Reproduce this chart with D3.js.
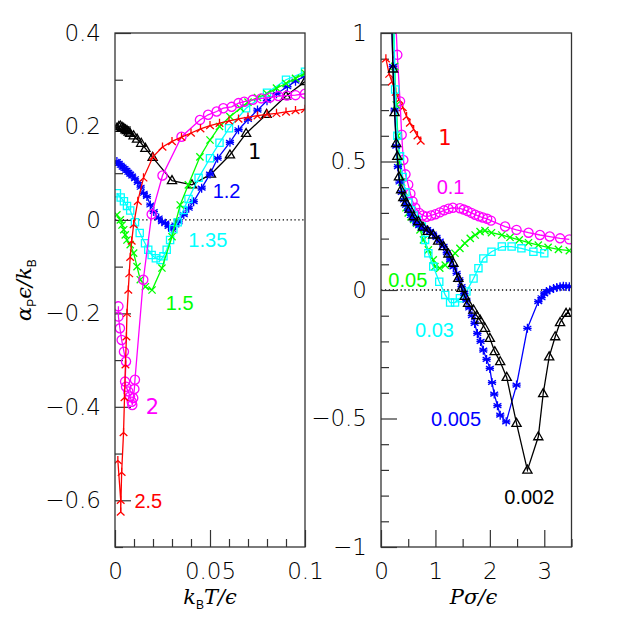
<!DOCTYPE html>
<html>
<head>
<meta charset="utf-8">
<script src="https://cdn.jsdelivr.net/npm/d3@7"></script>
<style>
  body { margin: 0; background: #fff; }
  svg { display: block; }
</style>
</head>
<body>
<div id="chart"></div>
<script>
// alpha_P vs T (left, labelled by P) and vs P (right, labelled by T)

var width = 623
var height = 623

// ---- left panel data: [kT/eps, alpha_P eps/k_B], one list per pressure
var tP1 = [[0.001,0.196],[0.002,0.200],[0.0028,0.201],[0.0037,0.198],[0.0046,0.196],[0.0055,0.193],[0.0063,0.191],[0.0072,0.188],[0.008,0.185],[0.0098,0.18],[0.0116,0.173],[0.0138,0.164],[0.016,0.153],[0.0198,0.134],[0.030,0.084],[0.0405,0.075],[0.0505,0.098],[0.0605,0.139],[0.069,0.185],[0.0798,0.226],[0.09,0.265],[0.1,0.296]]
var tP12 = [[0.001,0.125],[0.002,0.121],[0.003,0.117],[0.004,0.113],[0.005,0.11],[0.006,0.106],[0.007,0.102],[0.008,0.098],[0.009,0.094],[0.0105,0.088],[0.012,0.08],[0.0135,0.07],[0.0151,0.057],[0.0168,0.05],[0.0186,0.032],[0.0204,0.018],[0.023,0.004],[0.0247,-0.004],[0.0265,-0.007],[0.0282,-0.014],[0.03,-0.02],[0.0318,-0.011],[0.0335,-0.004],[0.0362,0.011],[0.0388,0.025],[0.0414,0.039],[0.0456,0.068],[0.05,0.098],[0.054,0.132],[0.0605,0.166],[0.065,0.193],[0.07,0.215],[0.075,0.235],[0.08,0.255],[0.085,0.27],[0.0907,0.285],[0.095,0.297],[0.1,0.308]]
var tP135 = [[0.001,0.057],[0.003,0.048],[0.0047,0.04],[0.0063,0.03],[0.008,0.02],[0.0105,-0.005],[0.013,-0.028],[0.0158,-0.05],[0.0175,-0.064],[0.0193,-0.075],[0.0215,-0.082],[0.024,-0.086],[0.0255,-0.078],[0.0272,-0.064],[0.029,-0.043],[0.0307,-0.02],[0.033,-0.005],[0.036,0.021],[0.0387,0.045],[0.044,0.09],[0.05,0.132],[0.055,0.165],[0.06,0.196],[0.069,0.239],[0.08,0.272],[0.09,0.300],[0.1,0.317]]
var tP15 = [[0.001,0.011],[0.0028,0],[0.0037,-0.011],[0.0046,-0.021],[0.0054,-0.032],[0.0063,-0.043],[0.008,-0.053],[0.0098,-0.071],[0.0116,-0.1],[0.0133,-0.128],[0.016,-0.143],[0.0195,-0.15],[0.0247,-0.103],[0.03,-0.036],[0.0343,0.032],[0.0386,0.075],[0.0447,0.135],[0.05,0.171],[0.055,0.2],[0.0605,0.221],[0.066,0.239],[0.07,0.252],[0.075,0.262],[0.08,0.27],[0.085,0.282],[0.09,0.292],[0.095,0.303],[0.1,0.314]]
var tP2 = [[0.0018,-0.185],[0.0018,-0.207],[0.0026,-0.232],[0.0035,-0.257],[0.0047,-0.282],[0.0058,-0.303],[0.0053,-0.346],[0.0058,-0.357],[0.007,-0.367],[0.0079,-0.378],[0.0088,-0.389],[0.0091,-0.396],[0.0096,-0.381],[0.0102,-0.362],[0.0105,-0.342],[0.0149,-0.128],[0.0193,0.012],[0.025,0.095],[0.035,0.178],[0.0447,0.214],[0.049,0.225],[0.0535,0.232],[0.057,0.239],[0.0614,0.242],[0.065,0.25],[0.068,0.253],[0.0725,0.257],[0.077,0.26],[0.0815,0.262],[0.086,0.265],[0.0905,0.266],[0.095,0.267],[0.1,0.27]]
var tP25 = [[0.0015,-0.515],[0.003,-0.60],[0.003,-0.625],[0.0035,-0.54],[0.0045,-0.455],[0.005,-0.38],[0.0055,-0.31],[0.006,-0.25],[0.0063,-0.2],[0.007,-0.15],[0.0075,-0.115],[0.008,-0.08],[0.0088,-0.045],[0.0098,-0.01],[0.012,0.04],[0.015,0.09],[0.02,0.135],[0.025,0.156],[0.03,0.168],[0.035,0.177],[0.04,0.186],[0.045,0.195],[0.05,0.202],[0.055,0.207],[0.06,0.212],[0.065,0.216],[0.07,0.22],[0.075,0.223],[0.08,0.226],[0.085,0.228],[0.09,0.231],[0.095,0.234],[0.1,0.237]]

// ---- right panel data: [P sigma/eps, alpha_P eps/k_B], one list per temperature
var pT1 = [[0.09,0.9],[0.15,0.84],[0.2,0.81],[0.27,0.77],[0.33,0.74],[0.4,0.71],[0.47,0.675],[0.53,0.65],[0.6,0.625],[0.67,0.6],[0.73,0.58]]
var pT01 = [[0.26,1.1],[0.3,0.915],[0.35,0.734],[0.38,0.604],[0.41,0.506],[0.45,0.45],[0.5,0.41],[0.54,0.375],[0.58,0.345],[0.63,0.32],[0.7,0.3],[0.77,0.29],[0.84,0.285],[0.92,0.29],[1.0,0.295],[1.08,0.302],[1.16,0.31],[1.24,0.316],[1.32,0.32],[1.45,0.318],[1.52,0.313],[1.59,0.307],[1.66,0.3],[1.73,0.293],[1.8,0.287],[1.87,0.282],[1.95,0.277],[2.02,0.27],[2.28,0.247],[2.49,0.234],[2.71,0.223],[2.92,0.214],[3.1,0.208],[3.29,0.201],[3.46,0.197]]
var pT005 = [[0.22,1.1],[0.25,0.87],[0.28,0.72],[0.31,0.6],[0.34,0.5],[0.38,0.42],[0.42,0.36],[0.46,0.32],[0.5,0.3],[0.55,0.285],[0.6,0.275],[0.655,0.26],[0.717,0.234],[0.78,0.195],[0.87,0.156],[0.96,0.117],[0.99,0.091],[1.08,0.085],[1.18,0.097],[1.27,0.12],[1.36,0.143],[1.45,0.162],[1.54,0.182],[1.64,0.201],[1.73,0.214],[1.82,0.227],[1.91,0.231],[2.03,0.223],[2.22,0.214],[2.37,0.205],[2.54,0.195],[2.71,0.184],[2.89,0.175],[3.07,0.166],[3.26,0.158],[3.46,0.153]]
var pT003 = [[0.23,1.1],[0.26,0.78],[0.3,0.6],[0.35,0.52],[0.4,0.44],[0.45,0.38],[0.5,0.34],[0.55,0.31],[0.6,0.29],[0.655,0.273],[0.75,0.247],[0.81,0.195],[0.87,0.143],[0.96,0.091],[1.07,0.032],[1.18,-0.019],[1.27,-0.049],[1.36,-0.049],[1.45,-0.032],[1.57,-0.006],[1.7,0.045],[1.79,0.085],[1.88,0.123],[2.03,0.149],[2.22,0.169],[2.4,0.169],[2.58,0.162],[2.8,0.149],[3.0,0.143]]
var pT0005 = [[0.19,1.1],[0.22,0.87],[0.25,0.7],[0.28,0.56],[0.31,0.48],[0.34,0.42],[0.38,0.38],[0.42,0.35],[0.46,0.33],[0.5,0.31],[0.55,0.29],[0.6,0.275],[0.65,0.26],[0.7,0.25],[0.78,0.24],[0.85,0.235],[0.9,0.228],[0.95,0.218],[1.02,0.205],[1.08,0.19],[1.15,0.17],[1.21,0.145],[1.27,0.117],[1.33,0.09],[1.39,0.065],[1.44,0.04],[1.48,0.013],[1.53,-0.013],[1.57,-0.04],[1.62,-0.07],[1.67,-0.1],[1.72,-0.13],[1.77,-0.169],[1.83,-0.2],[1.88,-0.234],[1.94,-0.27],[2.0,-0.305],[2.04,-0.36],[2.08,-0.405],[2.14,-0.45],[2.19,-0.487],[2.3,-0.513],[2.49,-0.37],[2.69,-0.149],[2.89,-0.045],[2.95,-0.03],[3.0,-0.015],[3.04,-0.006],[3.1,0.0],[3.17,0.006],[3.23,0.01],[3.29,0.013],[3.35,0.015],[3.4,0.014],[3.46,0.013]]
var pT0002 = [[0.19,1.1],[0.22,0.86],[0.25,0.69],[0.28,0.57],[0.3,0.52],[0.33,0.44],[0.37,0.39],[0.41,0.36],[0.46,0.34],[0.53,0.315],[0.6,0.285],[0.686,0.266],[0.77,0.245],[0.86,0.228],[0.96,0.214],[1.05,0.19],[1.15,0.169],[1.24,0.14],[1.33,0.104],[1.42,0.045],[1.48,0.006],[1.54,-0.025],[1.6,-0.052],[1.7,-0.078],[1.76,-0.1],[1.82,-0.117],[1.91,-0.149],[2.0,-0.188],[2.09,-0.24],[2.19,-0.279],[2.31,-0.34],[2.49,-0.519],[2.69,-0.701],[2.89,-0.571],[2.98,-0.403],[3.09,-0.26],[3.2,-0.182],[3.29,-0.127],[3.4,-0.091],[3.47,-0.091]]

// tick values
var leftYMajor = [-0.6, -0.4, -0.2, 0, 0.2, 0.4]
var leftYMinor = [-0.7, -0.5, -0.3, -0.1, 0.1, 0.3]
var leftXMajor = [0, 0.05, 0.1]
var leftXMinor = [0.01, 0.02, 0.03, 0.04, 0.06, 0.07, 0.08, 0.09]
var rightYMajor = [-1, -0.5, 0, 0.5, 1]
var rightYMinor = [-0.9, -0.8, -0.7, -0.6, -0.4, -0.3, -0.2, -0.1, 0.1, 0.2, 0.3, 0.4, 0.6, 0.7, 0.8, 0.9]
var rightXMajor = [0, 1, 2, 3]
var rightXMinor = [0.5, 1.5, 2.5, 3.5]

// series labels: [text, x, y] in data units of each panel
var leftLabels = [["1",0.070,0.130],["1.2",0.0514,0.046],["1.35",0.0386,-0.058],["1.5",0.0267,-0.193],["2",0.0162,-0.415],["2.5",0.0102,-0.617]]
var rightLabels = [["1",1.053,0.563],["0.1",1.023,0.374],["0.05",0.135,0.012],["0.03",0.625,-0.181],["0.005",0.919,-0.528],["0.002",2.265,-0.834]]

var svg = d3.select("#chart")
  .append("svg")
    .attr("width", width)
    .attr("height", height)

var xL = d3.scaleLinear().domain([0, 0.1]).range([115, 305])
var yL = d3.scaleLinear().domain([-0.7, 0.4]).range([547, 33])
var xR = d3.scaleLinear().domain([0, 3.5]).range([381, 571.5])
var yR = d3.scaleLinear().domain([-1, 1]).range([547, 33])

var numFont = "DejaVu Sans"
var labFont = "Liberation Sans"
var titleFont = "DejaVu Serif, Liberation Serif, serif"

// marker shapes, drawn around (0,0)
var markers = {
  tri: "M0,-5L4.6,3L-4.6,3Z",
  square: "M-3.6,-3.6H3.6V3.6H-3.6Z",
  circle: d3.symbol(d3.symbolCircle, 66)(),
  cross: "M-3.6,-3.6L3.6,3.6M-3.6,3.6L3.6,-3.6",
  star: "M0,-4.5V4.5M-3.9,-2.25L3.9,2.25M-3.9,2.25L3.9,-2.25M-4.2,0H4.2",
  tristar: "M0,0V-4.5M0,0L-3.8,3.5M0,0L3.8,3.5"
}

function fmt(d) { return String(d).replace("-", "\u2212") }

function panel(x, y, series, labels, xMaj, xMin, yMaj, yMin, clipId) {
  var g = svg.append("g")
  var x0 = x.range()[0], x1 = x.range()[1], y0 = y.range()[1], y1 = y.range()[0]

  svg.append("clipPath").attr("id", clipId)
    .append("rect").attr("x", x0).attr("y", y0).attr("width", x1 - x0).attr("height", y1 - y0)

  // zero line
  g.append("line")
    .attr("x1", x0).attr("x2", x1).attr("y1", y(0)).attr("y2", y(0))
    .attr("stroke", "#000").attr("stroke-width", 1.3).attr("stroke-dasharray", "1.3,2.6")

  // axes: ticks point into the plot
  g.append("g").attr("transform", "translate(" + x0 + ",0)")
    .call(d3.axisLeft(y).tickValues(yMin).tickSize(-8).tickFormat(""))
  g.append("g").attr("transform", "translate(" + x0 + ",0)")
    .call(d3.axisLeft(y).tickValues(yMaj).tickSize(-16).tickPadding(14).tickFormat(fmt))
  g.append("g").attr("transform", "translate(0," + y1 + ")")
    .call(d3.axisBottom(x).tickValues(xMin).tickSize(-8).tickFormat(""))
  g.append("g").attr("transform", "translate(0," + y1 + ")")
    .call(d3.axisBottom(x).tickValues(xMaj).tickSize(-17).tickPadding(16).tickFormat(fmt))
  g.selectAll(".domain").remove()
  g.selectAll(".tick line").attr("stroke", "#333").attr("stroke-width", 1.2)
  g.selectAll(".tick text").attr("font-family", numFont).attr("font-weight", 300)
    .attr("font-size", 23).attr("fill", "#000")

  var line = d3.line().x(function(d) { return x(d[0]) }).y(function(d) { return y(d[1]) })
  var data = g.append("g").attr("clip-path", "url(#" + clipId + ")")

  series.forEach(function(s) {
    data.append("path")
      .attr("d", line(s.values))
      .attr("fill", "none")
      .attr("stroke", s.color)
      .attr("stroke-width", 1.3)
    data.selectAll(null)
      .data(s.values)
      .enter()
      .append("path")
        .attr("transform", function(d) { return "translate(" + x(d[0]) + "," + y(d[1]) + ")" })
        .attr("d", markers[s.mark])
        .attr("fill", "none")
        .attr("stroke", s.color)
        .attr("stroke-width", 1.3)
  })

  // frame
  g.append("rect")
    .attr("x", x0).attr("y", y0).attr("width", x1 - x0).attr("height", y1 - y0)
    .attr("fill", "none").attr("stroke", "#333").attr("stroke-width", 1.3)

  labels.forEach(function(l, i) {
    var single = l[0].length == 1
    g.append("text")
      .attr("x", x(l[1])).attr("y", y(l[2]))
      .attr("font-family", single ? numFont : labFont)
      .attr("font-size", single ? 21 : 20)
      .attr("fill", series[i].color)
      .text(l[0])
  })
}

panel(xL, yL, [
  { values: tP1, color: "#000000", mark: "tri" },
  { values: tP12, color: "#0000ff", mark: "star" },
  { values: tP135, color: "#00ffff", mark: "square" },
  { values: tP15, color: "#00ff00", mark: "cross" },
  { values: tP2, color: "#ff00ff", mark: "circle" },
  { values: tP25, color: "#ff0000", mark: "tristar" }
], leftLabels, leftXMajor, leftXMinor, leftYMajor, leftYMinor, "clipL")

panel(xR, yR, [
  { values: pT1, color: "#ff0000", mark: "tristar" },
  { values: pT01, color: "#ff00ff", mark: "circle" },
  { values: pT005, color: "#00ff00", mark: "cross" },
  { values: pT003, color: "#00ffff", mark: "square" },
  { values: pT0005, color: "#0000ff", mark: "star" },
  { values: pT0002, color: "#000000", mark: "tri" }
], rightLabels, rightXMajor, rightXMinor, rightYMajor, rightYMinor, "clipR")

// axis titles
var ty = svg.append("text")
  .attr("transform", "translate(31,290) rotate(-90)")
  .attr("text-anchor", "middle")
  .attr("font-family", titleFont).attr("font-size", 21)
ty.append("tspan").attr("font-style", "italic").text("\u03b1")
ty.append("tspan").attr("font-size", 12).attr("font-family", labFont).attr("dy", 5).text("P")
ty.append("tspan").attr("font-style", "italic").attr("dy", -5).text("\u03f5/")
ty.append("tspan").attr("font-style", "italic").text("k")
ty.append("tspan").attr("font-size", 12).attr("font-family", labFont).attr("dy", 5).text("B")

var tx = svg.append("text")
  .attr("x", xL(0.05)).attr("y", 604)
  .attr("text-anchor", "middle")
  .attr("font-family", titleFont).attr("font-size", 21)
tx.append("tspan").attr("font-style", "italic").text("k")
tx.append("tspan").attr("font-size", 12).attr("font-family", labFont).attr("dy", 5).text("B")
tx.append("tspan").attr("font-style", "italic").attr("dy", -5).text("T/\u03f5")

svg.append("text")
  .attr("x", xR(1.7)).attr("y", 604)
  .attr("text-anchor", "middle")
  .attr("font-family", titleFont).attr("font-size", 21).attr("font-style", "italic")
  .text("P\u03c3/\u03f5")
</script>
</body>
</html>
